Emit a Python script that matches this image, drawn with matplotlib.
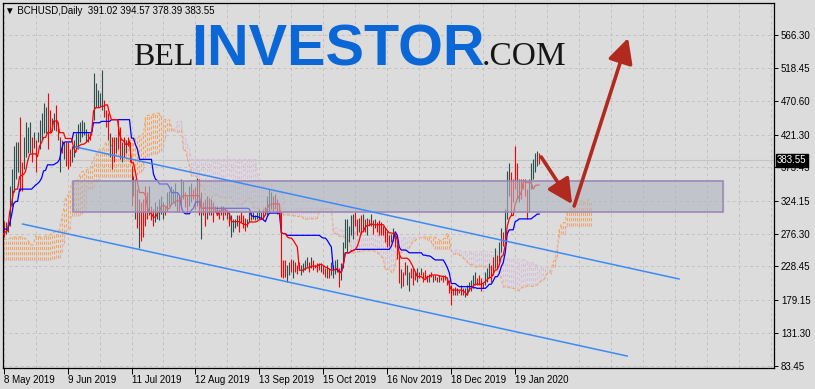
import numpy as np
import matplotlib
matplotlib.use("Agg")
import matplotlib.pyplot as plt
from matplotlib.patches import Rectangle
from matplotlib.transforms import blended_transform_factory

# ---------------- data ----------------
symbol_header = "\u25BC BCHUSD,Daily  391.02 394.57 378.39 383.55"
last_price = 383.55
first_day = "2019-05-08"

# daily bars before the visible window (19 Feb - 7 May 2019), used for the Ichimoku lines
pre_high = [160, 162, 158, 155, 152, 158, 160, 162, 165, 163, 160, 158, 162, 165, 163, 160, 158, 162, 160, 163, 165, 162,
            160, 158, 155, 160, 162, 165, 168, 166, 163, 165, 170, 168, 165, 167, 170, 172, 168, 170, 175,
            182, 290, 330,
            318, 310, 305, 312, 320, 315, 308, 300,
            290, 300, 325, 318, 330, 312, 300,
            298, 292, 288, 285, 280, 272, 262,
            258, 255, 262, 268, 272,
            278, 285, 290, 288, 295, 300, 298]
pre_low = [150, 152, 148, 146, 145, 148, 150, 152, 155, 152, 150, 148, 150, 155, 152, 150, 148, 150, 150, 152, 155, 152,
           150, 146, 145, 148, 150, 153, 156, 155, 152, 154, 158, 157, 155, 157, 160, 162, 158, 160, 164,
           168, 178, 275,
           285, 280, 282, 290, 295, 288, 280, 270,
           270, 280, 290, 292, 300, 290, 280,
           282, 275, 270, 265, 258, 250, 245,
           240, 236, 242, 248, 252,
           258, 262, 268, 270, 275, 280, 282]

# visible daily bars, 8 May 2019 - 31 Jan 2020
high = [295, 294, 291, 346, 371, 404, 411, 411, 447, 381,
        417, 439, 432, 439, 418, 425, 414, 425, 443, 453,
        468, 462, 482, 457, 446, 453, 465, 439, 418, 414,
        410, 410, 410, 400, 404, 414, 424, 436, 439, 443,
        440, 429, 424, 424, 443, 511, 497, 487, 482, 515,
        472, 457, 453, 424, 418, 418, 418, 443, 433, 410,
        418, 414, 418, 410, 375, 360,
        356, 342, 327, 322, 327, 346, 337, 346, 317, 313,
        322, 317, 327, 332, 322, 317, 337, 339, 346, 342,
        351, 337, 332, 356, 354, 337, 332, 346, 351, 342,
        344, 358, 356, 337, 322, 327, 332, 329, 327, 322,
        317, 317, 313, 317, 317, 313, 310, 308, 303, 298,
        298, 303, 303, 308, 303, 300, 298, 308, 308, 308,
        303, 308, 313, 308, 313, 315, 332, 342,
        337, 332, 334, 327, 317, 308, 238, 238, 230, 235,
        240, 238, 235, 230, 235, 230, 233, 238, 242, 235,
        242, 238, 230, 233, 233, 233, 230, 226, 230, 226,
        235, 230, 238, 240, 226, 233, 264, 298, 298, 288,
        303, 305, 308, 298, 300, 303, 305, 298, 300, 298,
        305, 296, 298, 293, 296, 293, 288, 284, 281, 274,
        276, 284, 274, 262, 250, 225, 220,
        235, 230, 221, 226, 226, 221, 226, 221, 226, 221,
        223, 216, 218, 221, 216, 216, 213, 216, 213, 216,
        216, 213, 209, 201, 197, 199, 197, 194, 201, 197,
        197, 201, 206, 209, 216, 221, 211, 216, 211, 206,
        221, 226, 233, 230, 243, 255, 245, 264, 284, 279,
        313, 368, 380, 366, 356, 404, 380, 356, 356, 356,
        356, 342, 356, 380, 385, 395, 397, 394.57]
low = [272, 276, 279, 288, 317, 337, 356, 366, 339, 339,
       371, 389, 395, 395, 381, 402, 366, 410, 400, 414,
       424, 424, 400, 424, 426, 428, 426, 414, 366, 395,
       385, 375, 371, 375, 381, 389, 400, 400, 410, 418,
       421, 410, 410, 414, 426, 443, 462, 462, 462, 457,
       447, 433, 414, 389, 371, 381, 395, 400, 385, 381,
       389, 395, 404, 381, 317, 331,
       298, 284, 255, 266, 271, 288, 298, 303, 296, 288,
       293, 298, 296, 305, 298, 303, 310, 317, 320, 322,
       317, 308, 308, 313, 327, 315, 308, 317, 322, 327,
       313, 317, 303, 269, 303, 288, 298, 303, 303, 293,
       308, 303, 298, 303, 296, 303, 298, 288, 271, 279,
       284, 288, 279, 293, 284, 281, 286, 293, 296, 298,
       296, 298, 298, 298, 298, 303, 303, 308,
       313, 308, 313, 305, 303, 213, 211, 213, 206, 216,
       221, 211, 221, 218, 226, 216, 221, 223, 228, 221,
       226, 223, 226, 221, 223, 221, 218, 213, 211, 211,
       216, 211, 218, 221, 199, 208, 226, 255, 250, 264,
       274, 269, 288, 274, 279, 276, 281, 279, 274, 288,
       288, 276, 284, 279, 274, 274, 274, 264, 257, 259,
       264, 266, 257, 240, 205, 197, 200,
       216, 201, 192, 211, 201, 209, 206, 211, 216, 206,
       211, 206, 206, 213, 206, 209, 206, 206, 209, 206,
       209, 201, 189, 172, 187, 187, 187, 189, 187, 187,
       184, 187, 192, 192, 197, 201, 201, 201, 192, 197,
       201, 206, 211, 206, 216, 226, 226, 235, 250, 259,
       269, 298, 332, 303, 322, 342, 327, 322, 327, 342,
       332, 298, 308, 342, 356, 366, 375, 378.39]
# bar direction per day: u = up bar, d = down bar
direction = "".join([
    "duuuuuuudd", "uuuududuuu", "uudduuddud", "uddduuuuuu", "uudduuuuuu", "dddudduddu", "dudddu",
    "ududdddudd", "uuuuuduuuu", "uuduudduud", "dududdudud", "dududduduu", "uudddduudu", "uuuuduuu",
    "ududdddduu", "duddduuuud", "udddduddud", "uuuuduuuuu", "uuddududud", "ududdddddd", "uudddud",
    "duudddudud", "ddududdudd", "udddduddud", "uuuuuudddd", "uuudduduud", "uuuddddudd", "dduuuuud",
])

date_ticks = ["2019-05-08", "2019-06-09", "2019-07-11", "2019-08-12", "2019-09-13",
              "2019-10-15", "2019-11-16", "2019-12-18", "2020-01-19"]
date_labels = ["8 May 2019", "9 Jun 2019", "11 Jul 2019", "12 Aug 2019", "13 Sep 2019",
               "15 Oct 2019", "16 Nov 2019", "18 Dec 2019", "19 Jan 2020"]
price_ticks = [566.30, 518.45, 470.60, 421.30, 373.45, 324.15, 276.30, 228.45, 179.15, 131.30, 83.45]

# drawn objects (day index from 8 May 2019, price)
channel_upper = [(36, 403.1), (338, 210.2)]
channel_lower = [(9.5, 290.5), (312, 97.6)]
zone_days = (34.5, 360.0)
zone_prices = (308.0, 354.0)
arrow_down = [(269, 388.5), (284.5, 319.5)]
arrow_up = [(285.5, 316.8), (312.5, 562.4)]

# ---------------- derived ----------------
H = np.array(high, float)
L = np.array(low, float)
n = len(H)
dirs = (direction + "u" * n)[:n]
days = np.arange(n)

Ha = np.array(pre_high + high, float)
La = np.array(pre_low + low, float)
off = len(pre_high)


def mid(j, p):
    return (Ha[j - p + 1:j + 1].max() + La[j - p + 1:j + 1].min()) / 2.0


tenkan = np.array([mid(off + i, 9) for i in days])
kijun = np.array([mid(off + i, 26) for i in days])
cdays = np.arange(0, n + 26)
spanA = np.array([(mid(off + d - 26, 9) + mid(off + d - 26, 26)) / 2 for d in cdays])
spanB = np.array([mid(off + d - 26, 52) for d in cdays])

start = np.datetime64(first_day)
tick_pos = [(np.datetime64(d) - start).astype(int) for d in date_ticks]

# ---------------- figure ----------------
BG = "#dcdcdc"
fig = plt.figure(figsize=(8.15, 3.89), dpi=100, facecolor=BG)
ax = fig.add_axes([3 / 815, 1 - 368 / 389, 771 / 815, 365 / 389], facecolor=BG)
ax.set_xlim(-0.3, 385.5)
ax.set_ylim(80.1, 613.5)

font = ["Liberation Sans", "DejaVu Sans"]

# grid
ax.set_xticks(tick_pos)
ax.set_xticks(np.arange(0, 386, 16), minor=True)
ax.set_yticks(price_ticks)
ax.set_yticklabels(["%.2f" % v for v in price_ticks], fontfamily=font, fontsize=7)
ax.set_xticklabels(date_labels, fontfamily=font, fontsize=7, ha="left")
ax.grid(True, which="both", axis="x", color="#c2c2c2", linestyle=(0, (3, 3)), lw=0.7)
ax.grid(True, which="major", axis="y", color="#c2c2c2", linestyle=(0, (3, 3)), lw=0.7)
ax.set_axisbelow(True)
ax.yaxis.tick_right()
ax.tick_params(axis="y", direction="out", length=3, width=0.7, pad=2, colors="black")
ax.tick_params(axis="x", which="major", direction="out", length=4, width=0.7, pad=1, colors="black")
ax.tick_params(axis="x", which="minor", length=0)
for s in ax.spines.values():
    s.set_color("black")
    s.set_linewidth(0.9)

# last price line
ax.axhline(last_price, color="#c4c4c4", lw=0.8, zorder=1)

# cloud
up_cloud = spanA >= spanB
lo_c = np.minimum(spanA, spanB)
hi_c = np.maximum(spanA, spanB)
ax.vlines(cdays[up_cloud], lo_c[up_cloud], hi_c[up_cloud],
          colors="#f4a460", lw=0.75, linestyles=(0, (3, 2)), zorder=2)
ax.vlines(cdays[~up_cloud], lo_c[~up_cloud], hi_c[~up_cloud],
          colors="#d8bfd8", lw=0.75, linestyles=(0, (3, 2)), zorder=2)
ax.plot(cdays, spanA, color="#f4a460", lw=0.75, ls=(0, (3, 2)), zorder=2.1)
ax.plot(cdays, spanB, color="#d8bfd8", lw=0.75, ls=(0, (3, 2)), zorder=2.1)

# bars
cols = ["#ff0000" if c == "d" else "#2f4f4f" for c in dirs]
ax.vlines(days, L, H, colors=cols, lw=0.8, zorder=3)

# tenkan / kijun
ax.plot(days, kijun, color="#0000ff", lw=0.9, zorder=4)
ax.plot(days, tenkan, color="#ff0000", lw=0.9, zorder=4)

# zone rectangle
ax.add_patch(Rectangle((zone_days[0] - 1, zone_prices[0] - 1.5), zone_days[1] - zone_days[0] + 2,
                       zone_prices[1] - zone_prices[0] + 3, facecolor="#b0b3bd", alpha=0.15,
                       edgecolor="none", zorder=5))
ax.add_patch(Rectangle((zone_days[0], zone_prices[0]), zone_days[1] - zone_days[0],
                       zone_prices[1] - zone_prices[0], facecolor="#b4b7c3", alpha=0.55,
                       edgecolor="none", zorder=5))
ax.add_patch(Rectangle((zone_days[0], zone_prices[0]), zone_days[1] - zone_days[0],
                       zone_prices[1] - zone_prices[0], facecolor="none",
                       edgecolor="#9a84b4", lw=1.1, zorder=5.1))

# channel lines
for seg in (channel_upper, channel_lower):
    ax.plot([seg[0][0], seg[1][0]], [seg[0][1], seg[1][1]], color="#3d8af7", lw=1.1, zorder=6)

# arrows
for seg in (arrow_down, arrow_up):
    ax.annotate("", xy=seg[1], xytext=seg[0],
                arrowprops=dict(arrowstyle="-|>,head_length=0.75,head_width=0.38", color="#b12a1f",
                                lw=2.6, mutation_scale=20, shrinkA=0, shrinkB=0), zorder=7)

# last price label
tr = blended_transform_factory(ax.transAxes, ax.transData)
ax.text(1.004, last_price, "%.2f" % last_price, transform=tr, color="white", fontfamily=font,
        fontsize=7, va="center", ha="left", clip_on=False, zorder=10,
        bbox=dict(boxstyle="square,pad=0.15", fc="black", ec="black"))

# header
fig.text(5 / 815, 1 - 11 / 389, symbol_header, fontfamily=font, fontsize=7, va="center", ha="left")

# watermark
fig.text(133 / 815, 1 - 65 / 389, "BEL", fontfamily="Liberation Serif", fontsize=23,
         color="#161616", va="baseline", ha="left")
fig.text(191 / 815, 1 - 66 / 389, "INVESTOR", fontfamily="Liberation Sans", fontweight="bold",
         fontsize=41.5, color="#0b66d6", va="baseline", ha="left")
fig.text(482 / 815, 1 - 65 / 389, ".COM", fontfamily="Liberation Serif", fontsize=24,
         color="#161616", va="baseline", ha="left")

fig.savefig("out.png", dpi=100, facecolor=BG)
